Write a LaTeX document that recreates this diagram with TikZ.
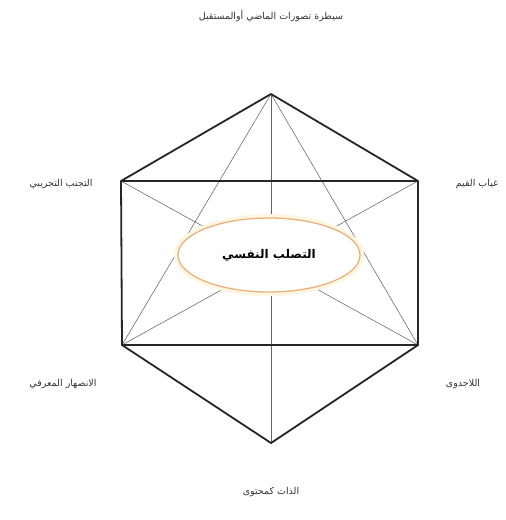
\documentclass[tikz,border=0pt]{standalone}
\usepackage{fontspec}
\TeXXeTstate=1
\newfontfamily\arabicfont[Script=Arabic]{DejaVu Sans}
\begin{document}
\begin{tikzpicture}[x=1pt,y=-1pt,
  thickedge/.style={line width=1.8pt, draw=black!85, line join=round},
  thinedge/.style={line width=0.55pt, draw=black!60},
  lbl/.style={font=\arabicfont\fontsize{9.5}{11}\selectfont, text=black!80, inner sep=0pt},
  core/.style={ellipse, draw=orange!45!brown!60, line width=1.3pt, fill=white,
     minimum width=182pt, minimum height=74pt, inner sep=0pt,
     font=\arabicfont\bfseries\fontsize{12}{14}\selectfont}]
\usetikzlibrary{shapes.geometric}
\useasboundingbox (0,0) rectangle (506,520);
\fill[white] (0,0) rectangle (506,520);
% vertices
\coordinate (T) at (271,94);
\coordinate (UL) at (121,181);
\coordinate (UR) at (418,181);
\coordinate (LL) at (122,345);
\coordinate (LR) at (418,345);
\coordinate (B) at (271,443);
% thin lines
\draw[thinedge] (T) -- (LL);
\draw[thinedge] (T) -- (LR);
\draw[thinedge] (T) -- (B);
\draw[thinedge] (UL) -- (LR);
\draw[thinedge] (UR) -- (LL);
% thick hexagon and rectangle
\draw[thickedge] (T) -- (UR) -- (LR) -- (B) -- (LL) -- (UL) -- cycle;
\draw[thickedge] (UL) -- (UR);
\draw[thickedge] (LL) -- (LR);
% glow + ellipse
\draw[line width=6pt, draw=yellow!35!orange!10] (269,255) ellipse (92pt and 38pt);
\node[core] (C) at (269,255) {\beginR التصلب النفسي\endR};
% labels
\node[lbl] (lt) at (271,16) {\beginR سيطرة تصورات الماضي أوالمستقبل\endR};
\node[lbl] (lul) at (61,184) {\beginR التجنب التجريبي\endR};
\node[lbl] (lur) at (477,184) {\beginR غياب القيم\endR};
\node[lbl] (lll) at (63,384) {\beginR الانصهار المعرفي\endR};
\node[lbl] (llr) at (463,384) {\beginR اللاجدوى\endR};
\node[lbl] (lb) at (271,492) {\beginR الذات كمحتوى\endR};
\end{tikzpicture}
\end{document}
